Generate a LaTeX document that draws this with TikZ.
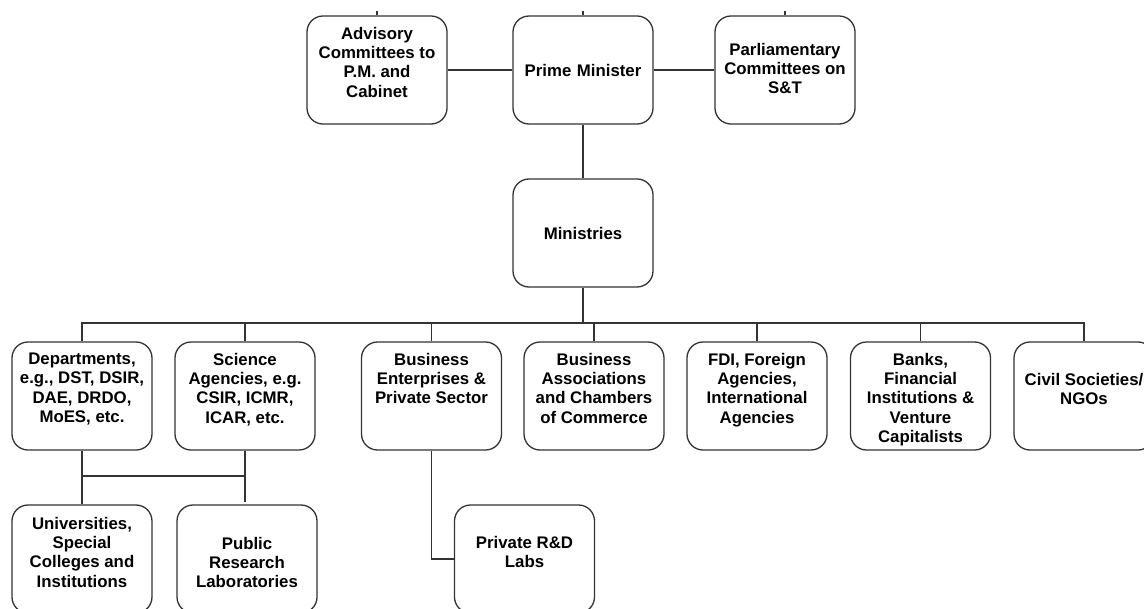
\documentclass[tikz,border=0pt]{standalone}
\usepackage{fontspec}
\setmainfont{Liberation Sans}
\newcommand{\unitfont}{\fontsize{8.4}{9.7}\selectfont\bfseries}
\newcommand{\unittext}[2][5.5pt]{\parbox[c][54pt][t]{68pt}{\centering\vspace*{#1}#2}}
\begin{document}
\begin{tikzpicture}[x=0.5pt,y=-0.5pt,
    unit/.style={draw=black!80, line width=0.65pt, rounded corners=8pt,
      inner sep=0pt, minimum width=70pt, minimum height=54pt, font=\unitfont},
    link/.style={draw=black!80, line width=0.7pt}]
  \useasboundingbox (0,0) rectangle (1144,609);
  \clip (0,0) rectangle (1144,609);
  % government
  \node[unit] (adv) at (377,70) {\unittext{Advisory\\Committees to\\P.M. and\\Cabinet}};
  \node[unit, align=center, text width=68pt] (pm) at (583,70) {Prime Minister};
  \node[unit] (parl) at (785,70) {\unittext[13.5pt]{Parliamentary\\Committees on\\S\&T}};
  \node[unit, align=center, text width=68pt] (min) at (583,233) {Ministries};
  % actors
  \node[unit] (dept) at (82,396) {\unittext{Departments,\\e.g., DST, DSIR,\\DAE, DRDO,\\MoES, etc.}};
  \node[unit] (sci) at (245,396) {\unittext{Science\\Agencies, e.g.\\CSIR, ICMR,\\ICAR, etc.}};
  \node[unit] (bent) at (431.5,396) {\unittext{Business\\Enterprises \&\\Private Sector}};
  \node[unit] (bassoc) at (594,396) {\unittext{Business\\Associations\\and Chambers\\of Commerce}};
  \node[unit] (fdi) at (757,396) {\unittext{FDI, Foreign\\Agencies,\\International\\Agencies}};
  \node[unit] (bank) at (920.5,396) {\unittext{Banks,\\Financial\\Institutions \&\\Venture\\Capitalists}};
  \node[unit] (civil) at (1084,396) {\unittext[15.5pt]{Civil Societies/\\NGOs}};
  % performers
  \node[unit] (univ) at (82,559) {\unittext[6pt]{Universities,\\Special\\Colleges and\\Institutions}};
  \node[unit] (pubres) at (247,559) {\unittext[16pt]{Public\\Research\\Laboratories}};
  \node[unit] (privrd) at (524.5,559) {\unittext[15.5pt]{Private R\&D\\Labs}};
  % links
  \coordinate (bus) at (583,323);
  \coordinate (labjoin) at (245,476);
  \coordinate (labtop) at (245,502);
  \foreach \n in {adv,pm,parl}
    \draw[link] (\n.north) -- ++(0,-4);
  \draw[link] (adv) -- (pm);
  \draw[link] (pm) -- (parl);
  \draw[link] (pm) -- (min);
  \draw[link] (min) -- (bus);
  \draw[link] (dept.north) |- (bus) -| (civil.north);
  \foreach \n in {sci,bent,bassoc,fdi,bank}
    \draw[link] (\n.north) -- (\n.north |- bus);
  \draw[link] (dept.south) -- (univ.north);
  \draw[link] (sci.south) -- (labtop);
  \draw[link] (dept.south |- labjoin) -- (labjoin);
  \draw[link] (bent.south) |- (privrd.west);
\end{tikzpicture}
\end{document}
